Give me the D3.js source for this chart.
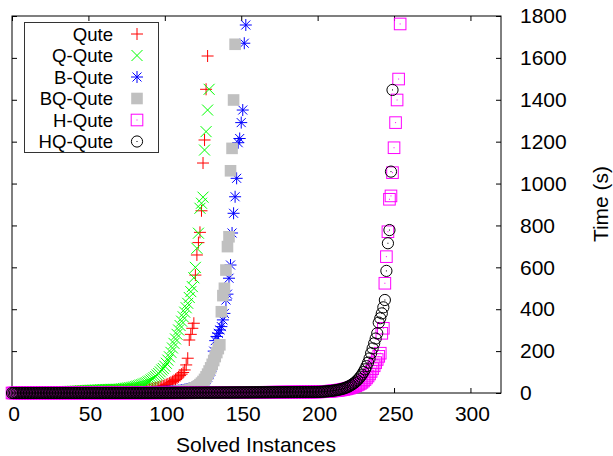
<!DOCTYPE html>
<html>
<head>
<meta charset="utf-8">
<script src="https://cdn.jsdelivr.net/npm/d3@7"></script>
<style>
  body { margin: 0; background: #fff; }
  svg { display: block; }
  text { font-family: "Liberation Sans", Arial, Helvetica, sans-serif; fill: #000; }
</style>
</head>
<body>
<svg id="chart" width="613" height="456"></svg>
<script>
// Solver names, in drawing order
const solverNames = ["Qute", "Q-Qute", "B-Qute", "BQ-Qute", "H-Qute", "HQ-Qute"];

// Sorted run times (s); the i-th value is plotted at x = i solved instances
const quteTimes = [
  0.1,0.1,0.1,0.2,0.2,0.2,0.3,0.3,0.4,0.4,
  0.5,0.5,0.6,0.7,0.8,0.9,1.0,1.1,1.2,1.3,
  1.4,1.5,1.6,1.8,2.0,2.2,2.4,2.6,2.8,3.0,
  3.2,3.4,3.6,3.8,4.0,4.2,4.4,4.6,4.8,5.0,
  5.3,5.6,5.9,6.2,6.5,6.8,7.1,7.4,7.7,8.0,
  8.3,8.6,8.9,9.2,9.5,9.8,10.1,10.4,10.7,11.0,
  11.2,11.4,11.6,11.8,12.0,12.2,12.4,12.6,12.8,13.0,
  13.2,13.4,13.6,13.8,14.0,14.2,14.4,14.6,14.8,15.0,
  15.2,15.4,15.6,15.8,16.0,16.3,16.6,17.0,17.5,18.0,
  19,20,21,22.5,24,26,28,30,32,34,
  37,40,43,47,51,55,60,65,71,77,
  83,90,98,110,134,166,253,280,309,333,
  563,659,718,767,870,1098,1208,1450,1609
];

const qQuteTimes = [
  0.1,0.1,0.2,0.2,0.3,0.3,0.4,0.5,0.6,0.7,
  0.8,0.9,1.0,1.1,1.2,1.4,1.6,1.8,2.0,2.2,
  2.4,2.6,2.8,3.0,3.3,3.6,3.9,4.2,4.5,4.8,
  5.1,5.4,5.7,6.0,6.3,6.6,7.0,7.4,7.8,8.2,
  8.6,9.0,9.4,9.8,10.2,10.6,11.0,11.4,11.8,12.2,
  12.6,13.0,13.4,13.8,14.2,14.6,15.0,15.4,15.8,16.2,
  16.4,16.6,16.8,17.0,17.2,17.4,17.6,17.7,17.8,17.9,
  18,19,20,21,22,23,24,25,26,27.5,
  29,31,33,35,38,40,43,46,49,53,
  57,62,67,73,79,86,93,101,110,117,
  128,142,157,173,194,215,237,258,280,301,
  322,343,364,386,407,428,456,484,508,550,
  600,691,763,882,906,935,1160,1248,1351,1450
];

const bQuteTimes = [
  0.0,0.0,0.0,0.0,0.0,0.0,0.0,0.0,0.1,0.1,
  0.1,0.1,0.1,0.1,0.1,0.1,0.1,0.2,0.2,0.2,
  0.2,0.2,0.2,0.2,0.3,0.3,0.3,0.3,0.3,0.4,
  0.4,0.4,0.4,0.5,0.5,0.5,0.5,0.6,0.6,0.6,
  0.7,0.7,0.7,0.8,0.8,0.8,0.9,0.9,1.0,1.0,
  1.0,1.1,1.1,1.2,1.2,1.3,1.3,1.4,1.4,1.5,
  1.5,1.6,1.6,1.7,1.8,1.8,1.9,2.0,2.0,2.1,
  2.2,2.2,2.3,2.4,2.5,2.5,2.6,2.7,2.8,2.9,
  3.0,3.1,3.2,3.3,3.4,3.5,3.6,3.8,3.9,4.0,
  4.2,4.4,4.6,4.8,5.0,5.2,5.4,5.7,6.0,6.3,
  6.6,7.0,7.4,7.8,8.3,8.8,9.4,10,10.7,11.5,
  12.4,13.4,14.5,16,17.5,19,21,23,25,27.5,
  30,33,36,40,45,51,58,66,76,88,
  104,140,200,250,270,285,301,317,349,380,
  444,472,548,611,764,858,937,1025,1195,1215,
  1291,1351,1670,1757
];

const bqQuteTimes = [
  0.0,0.0,0.0,0.0,0.0,0.0,0.0,0.0,0.0,0.0,
  0.0,0.0,0.1,0.1,0.1,0.1,0.1,0.1,0.1,0.1,
  0.1,0.1,0.1,0.1,0.2,0.2,0.2,0.2,0.2,0.2,
  0.2,0.3,0.3,0.3,0.3,0.3,0.4,0.4,0.4,0.4,
  0.5,0.5,0.5,0.5,0.6,0.6,0.6,0.7,0.7,0.7,
  0.8,0.8,0.8,0.9,0.9,1.0,1.0,1.0,1.1,1.1,
  1.2,1.2,1.3,1.3,1.4,1.4,1.5,1.5,1.6,1.6,
  1.7,1.7,1.8,1.9,1.9,2.0,2.1,2.1,2.2,2.3,
  2.4,2.4,2.5,2.6,2.7,2.8,2.9,3.0,3.1,3.2,
  3.3,3.4,3.5,3.6,3.8,3.9,4.0,4.2,4.3,4.5,
  4.7,4.9,5.1,5.3,5.5,5.8,6.1,6.4,6.8,7.2,
  7.7,8.3,9.0,10,11,12.5,14,16,18.5,21.5,
  25,29,34,40,47,55,65,77,90,105,
  120,137,155,174,193,212,230,388,465,500,
  587,699,746,1061,1168,1399,1665
];

const hQuteTimes = [
  0.0,0.0,0.0,0.0,0.0,0.0,0.0,0.0,0.0,0.0,
  0.0,0.0,0.0,0.0,0.0,0.1,0.1,0.1,0.1,0.1,
  0.1,0.1,0.1,0.1,0.1,0.1,0.1,0.1,0.1,0.1,
  0.1,0.1,0.1,0.1,0.1,0.1,0.2,0.2,0.2,0.2,
  0.2,0.2,0.2,0.2,0.2,0.2,0.2,0.2,0.2,0.2,
  0.2,0.3,0.3,0.3,0.3,0.3,0.3,0.3,0.3,0.3,
  0.3,0.3,0.3,0.4,0.4,0.4,0.4,0.4,0.4,0.4,
  0.4,0.4,0.5,0.5,0.5,0.5,0.5,0.5,0.5,0.5,
  0.6,0.6,0.6,0.6,0.6,0.6,0.6,0.7,0.7,0.7,
  0.7,0.7,0.7,0.8,0.8,0.8,0.8,0.8,0.9,0.9,
  0.9,0.9,0.9,1.0,1.0,1.0,1.0,1.1,1.1,1.1,
  1.1,1.2,1.2,1.2,1.2,1.3,1.3,1.3,1.4,1.4,
  1.4,1.5,1.5,1.5,1.6,1.6,1.6,1.7,1.7,1.7,
  1.8,1.8,1.8,1.9,1.9,2.0,2.0,2.0,2.1,2.1,
  2.2,2.2,2.2,2.3,2.3,2.4,2.4,2.5,2.5,2.6,
  2.6,2.7,2.7,2.8,2.8,2.9,2.9,3.0,3.0,3.1,
  3.1,3.2,3.2,3.3,3.3,3.4,3.4,3.5,3.5,3.6,
  3.6,3.7,3.7,3.8,3.8,3.9,3.9,4.0,4.0,4.1,
  4.1,4.2,4.2,4.3,4.3,4.4,4.4,4.5,4.5,4.6,
  4.6,4.7,4.7,4.8,4.8,4.9,4.9,5.0,5.0,5.1,
  5.3,5.6,5.9,6.2,6.6,7.0,7.5,8.0,8.6,9.2,
  9.9,10.6,11.4,12.3,13.3,14.4,15.6,17,18.5,20,
  22,24,26.5,29,32,35,38.5,42,46,51,
  57,64,72,81,91,103,116,130,145,160,
  175,190,285,309,524,651,770,925,941,1052,
  1171,1291,1399,1499,1762
];

const hqQuteTimes = [
  0.0,0.0,0.0,0.0,0.0,0.0,0.0,0.0,0.0,0.0,
  0.0,0.0,0.0,0.0,0.0,0.0,0.1,0.1,0.1,0.1,
  0.1,0.1,0.1,0.1,0.1,0.1,0.1,0.1,0.1,0.1,
  0.1,0.1,0.1,0.1,0.1,0.2,0.2,0.2,0.2,0.2,
  0.2,0.2,0.2,0.2,0.2,0.2,0.2,0.2,0.2,0.3,
  0.3,0.3,0.3,0.3,0.3,0.3,0.3,0.3,0.3,0.3,
  0.3,0.4,0.4,0.4,0.4,0.4,0.4,0.4,0.4,0.4,
  0.4,0.5,0.5,0.5,0.5,0.5,0.5,0.5,0.5,0.6,
  0.6,0.6,0.6,0.6,0.6,0.6,0.7,0.7,0.7,0.7,
  0.7,0.7,0.8,0.8,0.8,0.8,0.8,0.9,0.9,0.9,
  0.9,0.9,1.0,1.0,1.0,1.0,1.1,1.1,1.1,1.1,
  1.2,1.2,1.2,1.2,1.3,1.3,1.3,1.4,1.4,1.4,
  1.5,1.5,1.5,1.6,1.6,1.6,1.7,1.7,1.7,1.8,
  1.8,1.8,1.9,1.9,2.0,2.0,2.0,2.1,2.1,2.2,
  2.2,2.2,2.3,2.3,2.4,2.4,2.5,2.5,2.6,2.6,
  2.7,2.7,2.8,2.8,2.9,2.9,3.0,3.0,3.1,3.1,
  3.2,3.2,3.3,3.3,3.4,3.4,3.5,3.5,3.6,3.6,
  3.7,3.7,3.8,3.8,3.9,3.9,4.0,4.0,4.1,4.1,
  4.2,4.2,4.3,4.3,4.4,4.4,4.5,4.5,4.6,4.6,
  4.7,4.7,4.8,4.8,4.9,4.9,5.0,5.0,5.1,5.1,
  5.2,5.4,5.7,6.1,6.6,7.2,7.8,8.5,9.2,10,
  11,12,13,14.5,16,17.5,19.5,21.5,24,27,
  30,34,38,43,48,54,61,69,78,88,
  100,113,128,145,165,190,213,237,260,285,
  336,357,380,409,444,583,715,778,1057,1447
];

const xTickValues = [0, 50, 100, 150, 200, 250, 300];
const yTickValues = [0, 200, 400, 600, 800, 1000, 1200, 1400, 1600, 1800];
const xLabel = "Solved Instances";
const yLabel = "Time (s)";

const series = [
  { name: solverNames[0], times: quteTimes,   color: "#ff0000", mark: "plus" },
  { name: solverNames[1], times: qQuteTimes,  color: "#00ff00", mark: "cross" },
  { name: solverNames[2], times: bQuteTimes,  color: "#0000ff", mark: "star" },
  { name: solverNames[3], times: bqQuteTimes, color: "#c0c0c0", mark: "box" },
  { name: solverNames[4], times: hQuteTimes,  color: "#ff00ff", mark: "openBox" },
  { name: solverNames[5], times: hqQuteTimes, color: "#000000", mark: "openCircle" }
];

const svg = d3.select("#chart");
const plot = { left: 12, right: 501, top: 16, bottom: 393 };

const x = d3.scaleLinear().domain([0, 320]).range([plot.left, plot.right]);
const y = d3.scaleLinear().domain([0, 1800]).range([plot.bottom, plot.top]);
const plainNumber = d3.format("d");

// Axes: ticks point inwards on all four sides, labels on bottom and right
function styleAxis(g) {
  g.attr("font-family", null).attr("font-size", null);
  g.select(".domain").remove();
  g.selectAll(".tick line").attr("stroke", "#000").attr("stroke-width", 1);
}

svg.append("g")
  .attr("transform", `translate(0,${plot.bottom})`)
  .call(d3.axisBottom(x).tickValues(xTickValues).tickFormat(plainNumber)
    .tickSizeInner(-5).tickSizeOuter(0).tickPadding(13.5))
  .call(styleAxis)
  .call(g => g.selectAll(".tick text").attr("font-size", 21).attr("x", 1.5));

svg.append("g")
  .attr("transform", `translate(0,${plot.top})`)
  .call(d3.axisTop(x).tickValues(xTickValues).tickSizeInner(-5).tickSizeOuter(0).tickFormat(""))
  .call(styleAxis);

svg.append("g")
  .attr("transform", `translate(${plot.right},0)`)
  .call(d3.axisRight(y).tickValues(yTickValues).tickFormat(plainNumber)
    .tickSizeInner(-5).tickSizeOuter(0).tickPadding(19))
  .call(styleAxis)
  .call(g => g.selectAll(".tick text").attr("font-size", 21));

svg.append("g")
  .attr("transform", `translate(${plot.left},0)`)
  .call(d3.axisLeft(y).tickValues(yTickValues).tickSizeInner(-5).tickSizeOuter(0).tickFormat(""))
  .call(styleAxis);

// Plot frame
svg.append("rect")
  .attr("x", plot.left).attr("y", plot.top)
  .attr("width", plot.right - plot.left).attr("height", plot.bottom - plot.top)
  .attr("fill", "none").attr("stroke", "#000").attr("stroke-width", 1);

// Axis titles
svg.append("text")
  .attr("x", 256).attr("y", 452)
  .attr("text-anchor", "middle").attr("font-size", 21)
  .text(xLabel);

svg.append("text")
  .attr("transform", "translate(608,204) rotate(-90)")
  .attr("text-anchor", "middle").attr("font-size", 21)
  .text(yLabel);

// Point markers
function drawMark(g, mark, color) {
  switch (mark) {
    case "plus":
      g.append("path").attr("d", "M-6,0H6M0,-6V6")
        .attr("stroke", color).attr("stroke-width", 1).attr("fill", "none");
      break;
    case "cross":
      g.append("path").attr("d", "M-5.5,-5.5L5.5,5.5M-5.5,5.5L5.5,-5.5")
        .attr("stroke", color).attr("stroke-width", 1).attr("fill", "none");
      break;
    case "star":
      g.append("path").attr("d", "M-6,0H6M0,-6V6M-4.5,-4.5L4.5,4.5M-4.5,4.5L4.5,-4.5")
        .attr("stroke", color).attr("stroke-width", 1).attr("fill", "none");
      break;
    case "box":
      g.append("rect").attr("x", -5.8).attr("y", -5.8).attr("width", 11.6).attr("height", 11.6)
        .attr("fill", color);
      break;
    case "openBox":
      g.append("rect").attr("x", -5.8).attr("y", -5.8).attr("width", 11.6).attr("height", 11.6)
        .attr("fill", "none").attr("stroke", color).attr("stroke-width", 1);
      g.append("rect").attr("x", -0.5).attr("y", -0.5).attr("width", 1).attr("height", 1)
        .attr("fill", color);
      break;
    case "openCircle":
      g.append("circle").attr("r", 5.6)
        .attr("fill", "none").attr("stroke", color).attr("stroke-width", 1);
      g.append("rect").attr("x", -0.5).attr("y", -0.5).attr("width", 1).attr("height", 1)
        .attr("fill", color);
      break;
  }
}

series.forEach(s => {
  const g = svg.append("g").attr("class", "series");
  g.selectAll("g.pt")
    .data(s.times.map((t, i) => ({ n: i, t })))
    .join("g")
    .attr("class", "pt")
    .attr("transform", d => `translate(${x(d.n)},${y(d.t)})`)
    .each(function () { drawMark(d3.select(this), s.mark, s.color); });
});

// Legend
const legend = svg.append("g");
legend.append("rect")
  .attr("x", 24.5).attr("y", 22.5).attr("width", 134).attr("height", 130)
  .attr("fill", "none").attr("stroke", "#333").attr("stroke-width", 1);

series.forEach((s, i) => {
  const cy = 34 + i * 21.5;
  legend.append("text")
    .attr("x", 113).attr("y", cy + 6.7)
    .attr("text-anchor", "end").attr("font-size", 18.6)
    .text(s.name);
  const mg = legend.append("g").attr("transform", `translate(137,${cy})`);
  drawMark(mg, s.mark, s.color);
});
</script>
</body>
</html>
